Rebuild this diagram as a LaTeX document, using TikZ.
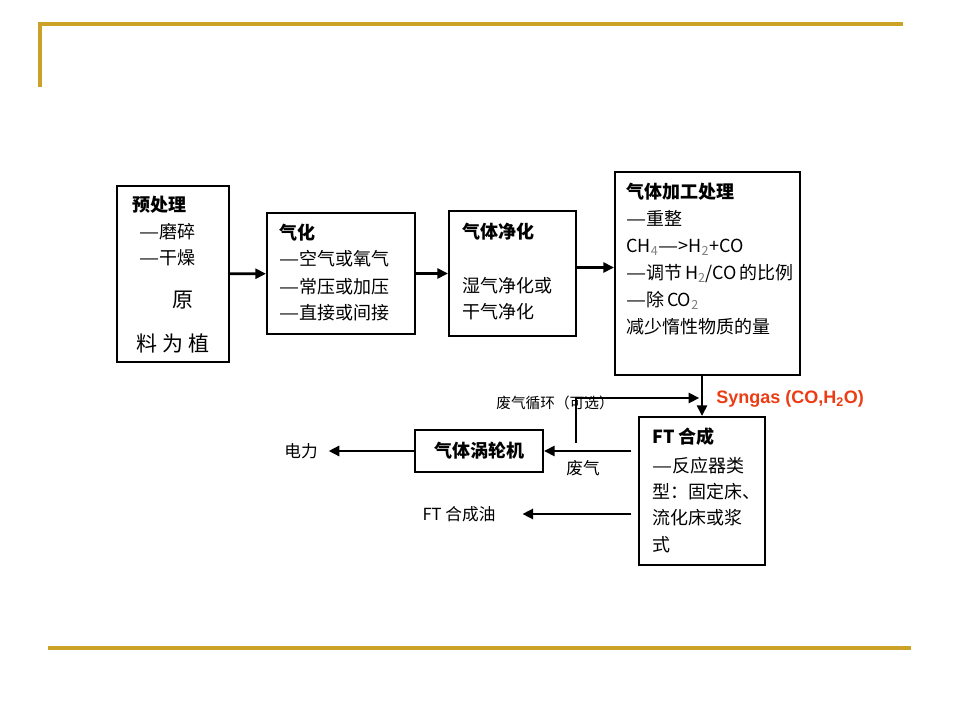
\documentclass[tikz,border=0pt]{standalone}
\usepackage{fontspec}
\setmainfont{Noto Sans CJK SC}
\newfontfamily\arialfont{Liberation Sans}
\usepackage{xcolor}
\usetikzlibrary{positioning,calc,arrows.meta}
\definecolor{lgold}{RGB}{201,162,39}
\definecolor{synred}{RGB}{235,60,20}
\newcommand\fwdash{\scalebox{1.25}[1]{—}}

\begin{document}
\begin{tikzpicture}[x=0.75pt, y=-0.75pt,
    box/.style={draw, line width=1.5pt, inner sep=0pt},
    txt/.style={anchor=base west, inner sep=0pt, font=\fontsize{13.5}{16}\selectfont},
    hd/.style={txt, font=\fontsize{13.5}{16}\selectfont\bfseries},
    lbl/.style={inner sep=0pt, font=\fontsize{12.5}{15}\selectfont},
    arr/.style={-{Triangle[length=8pt,width=7.5pt]}, line width=2pt},
    frame/.style={draw=lgold, line width=2.8pt}]

    \useasboundingbox (0,0) rectangle (960,720);

    % slide frame
    \draw[frame] (40,87) -- (40,24) -- (903,24);
    \draw[frame] (48,648) -- (911,648);

    % boxes
    \node[box, minimum width=84pt, minimum height=132pt] (pre) at (173,274) {};
    \node[box, minimum width=111pt, minimum height=90.75pt] (gas) at (341,273.5) {};
    \node[box, minimum width=95.25pt, minimum height=93.75pt] (clean) at (512.5,273.5) {};
    \node[box, minimum width=138.75pt, minimum height=152.25pt] (proc) at (707.5,273.5) {};
    \node[box, minimum width=94.5pt, minimum height=111pt] (ft) at (702,491) {};
    \node[box, minimum width=96pt, minimum height=31.5pt, font=\fontsize{13.5}{16}\selectfont\bfseries] (turb) at (479,451) {气体涡轮机};

    % box texts
    \node[hd] (pre-h) at ($(pre.north west)+(16,27)$) {预处理};
    \foreach \t [count=\i from 0] in {\fwdash 磨碎, \fwdash 干燥}
        \node[txt] (pre-\i) at ($(pre.north west)+(23,54+26*\i)$) {\t};
    \node[inner sep=0pt, font=\fontsize{15.75}{18}\selectfont] (pre-big) at (183,300) {原};
    \node[inner sep=0pt, font=\fontsize{15.75}{18}\selectfont] (pre-low) at (173,343) {料\hspace{4pt}为\hspace{4pt}植};

    \node[hd] (gas-h) at ($(gas.north west)+(13,28)$) {气化};
    \foreach \t [count=\i from 0] in {\fwdash 空气或氧气, \fwdash 常压或加压, \fwdash 直接或间接}
        \node[txt] (gas-\i) at ($(gas.north west)+(13,54+27*\i)$) {\t};

    \node[hd] (clean-h) at ($(clean.north west)+(14,29)$) {气体净化};
    \foreach \t [count=\i from 0] in {湿气净化或, 干气净化}
        \node[txt] (clean-\i) at ($(clean.north west)+(14,82+27*\i)$) {\t};

    \node[hd] (proc-h) at ($(proc.north west)+(12,28)$) {气体加工处理};
    \foreach \t [count=\i from 0] in {\fwdash 重整, {CH\textsubscript{\color{gray}4}\fwdash>H\textsubscript{\color{gray}2}+CO},
        {\fwdash 调节\hspace{2pt}H\textsubscript{\color{gray}2}/CO\hspace{2pt}的比例}, {\fwdash 除\hspace{2pt}CO\textsubscript{\color{gray}2}}, 减少惰性物质的量}
        \node[txt] (proc-\i) at ($(proc.north west)+(12,55+26.75*\i)$) {\t};

    \node[hd] (ft-h) at ($(ft.north west)+(14,27)$) {FT 合成};
    \foreach \t [count=\i from 0] in {\fwdash 反应器类, 型：固定床、, 流化床或浆, 式}
        \node[txt] (ft-\i) at ($(ft.north west)+(14,56+26.4*\i)$) {\t};

    % outside labels
    \node[lbl] (power) at (301,451) {电力};
    \node[lbl] (waste) at (583,468) {废气};
    \node[lbl] (oil) at (459,514) {FT 合成油};
    \node[inner sep=0pt, font=\fontsize{11}{13}\selectfont] (recyc) at (555,403) {废气循环（可选）};
    \node[anchor=west, inner sep=0pt, text=synred, font=\arialfont\bfseries\fontsize{13.5}{16}\selectfont] (syn) at (716,399) {Syngas (CO,H\textsubscript{2}O)};

    % connectors
    \draw[arr] (pre) -- (gas);
    \draw[arr] (gas) -- (clean);
    \draw[arr] ([yshift=4.5pt]clean.east) -- ([yshift=4.5pt]proc.west);
    \draw[arr] (proc.south -| ft.north) -- (ft.north);
    \draw[arr, shorten <=5pt] (ft.west |- turb.east) -- (turb.east);
    \draw[arr, shorten >=8pt] (turb.west) -- (power.east);
    \draw[arr, shorten <=5pt, shorten >=20pt] (ft.west |- oil.east) -- (oil.east);

    \coordinate (rcb) at (576,443);
    \coordinate (rct) at (576,398);
    \draw[arr, line width=1.6pt, shorten >=2pt] (rcb) -- (rct) -- (rct -| ft.north);

\end{tikzpicture}
\end{document}
